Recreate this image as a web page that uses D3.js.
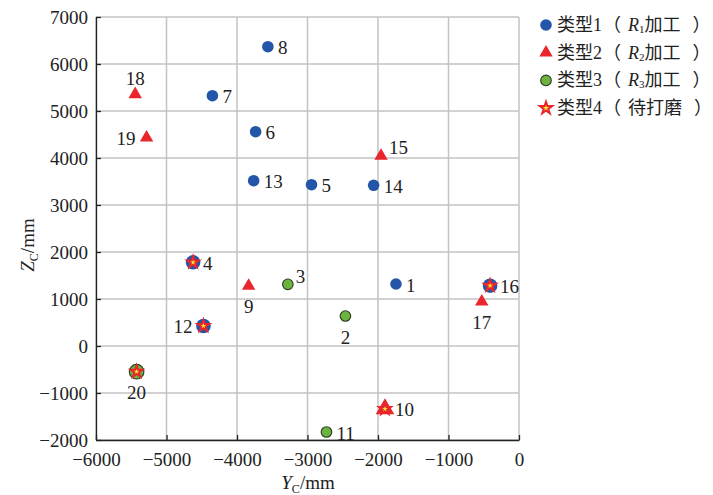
<!DOCTYPE html>
<html>
<head>
<meta charset="utf-8">
<script src="https://cdn.jsdelivr.net/npm/d3@7"></script>
<style>
  html, body { margin: 0; padding: 0; background: #fff; }
  svg { display: block; }
  text { font-family: "Liberation Serif", "Noto Sans CJK SC", serif; fill: #222; }
</style>
</head>
<body>
<svg id="chart" width="713" height="495"></svg>
<script>
// Workpiece positions in the camera frame (mm)
const pointIds = [1, 2, 3, 4, 5, 6, 7, 8, 9, 10, 11, 12, 13, 14, 15, 16, 17, 18, 19, 20];
const yC = [-1745, -2462, -3279, -4623, -2943, -3736, -4349, -3562, -3835, -1901,
            -2731, -4476, -3764, -2062, -1957, -410, -528, -5444, -5283, -5424];
const zC = [1319, 638, 1313, 1781, 3432, 4560, 5326, 6368, 1277, -1340,
            -1830, 426, 3517, 3419, 4043, 1283, 943, 5355, 4432, -547];
// machining type: 1 = R1, 2 = R2, 3 = R3
const machType = [1, 3, 3, 1, 1, 1, 1, 1, 2, 2, 3, 1, 1, 1, 2, 1, 2, 2, 2, 3];
// points that still need grinding (type 4)
const toGrind = [4, 10, 12, 16, 20];

const xTicks = [-6000, -5000, -4000, -3000, -2000, -1000, 0];
const yTicks = [-2000, -1000, 0, 1000, 2000, 3000, 4000, 5000, 6000, 7000];
const legendHeads = ["类型1", "类型2", "类型3", "类型4"];
const legendRobots = ["1", "2", "3", null];

// label placement around each marker
const labelSide = {
  1: "r", 2: "b", 3: "ur", 4: "r", 5: "r", 6: "r", 7: "r", 8: "r", 9: "b", 10: "r",
  11: "r", 12: "l", 13: "r", 14: "r", 15: "ur", 16: "r", 17: "b", 18: "t", 19: "l", 20: "b"
};

const BLUE = "#2356a8", RED = "#e8262b", GREEN = "#6cb33f", YELLOW = "#f7e43a";

const svg = d3.select("#chart");
const x = d3.scaleLinear().domain([-6000, 0]).range([96, 519]);
const y = d3.scaleLinear().domain([-2000, 7000]).range([440, 17]);

// grid
const grid = svg.append("g").attr("stroke", "#c3c3c3").attr("stroke-width", 1.5);
xTicks.forEach(t => grid.append("line")
  .attr("x1", x(t)).attr("x2", x(t)).attr("y1", y(-2000)).attr("y2", y(7000)));
yTicks.forEach(t => grid.append("line")
  .attr("x1", x(-6000)).attr("x2", x(0)).attr("y1", y(t)).attr("y2", y(t)));

// axes
const fmt = d => d < 0 ? "\u2212" + Math.abs(d) : d;
const xAxis = svg.append("g").attr("transform", `translate(0,${y(-2000)})`)
  .call(d3.axisBottom(x).tickValues(xTicks).tickSize(-5).tickSizeOuter(0).tickFormat(fmt));
const yAxis = svg.append("g").attr("transform", `translate(${x(-6000)},0)`)
  .call(d3.axisLeft(y).tickValues(yTicks).tickSize(-5).tickSizeOuter(0).tickFormat(fmt));
[xAxis, yAxis].forEach(a => {
  a.select(".domain").attr("stroke", "#222").attr("stroke-width", 1.3);
  a.selectAll(".tick line").attr("stroke", "#222").attr("stroke-width", 1.3);
  a.selectAll(".tick text").attr("font-size", 19)
    .attr("font-family", "Liberation Serif, serif").attr("fill", "#222");
});
xAxis.selectAll(".tick text").attr("dy", "1.2em");
yAxis.selectAll(".tick text").attr("x", -8);

// axis titles
const xt = svg.append("text").attr("x", 308).attr("y", 489).attr("text-anchor", "middle")
  .attr("font-size", 19);
xt.append("tspan").attr("font-style", "italic").text("Y");
xt.append("tspan").attr("font-size", 12).attr("dy", 4).text("C");
xt.append("tspan").attr("dy", -4).text("/mm");

const yt = svg.append("text").attr("transform", "translate(34,245) rotate(-90)")
  .attr("text-anchor", "middle").attr("font-size", 19);
yt.append("tspan").attr("font-style", "italic").text("Z");
yt.append("tspan").attr("font-size", 12).attr("dy", 4).text("C");
yt.append("tspan").attr("dy", -4).text("/mm");

// marker drawing helpers
function drawMarker(g, type, cx, cy) {
  if (type === 1) {
    g.append("circle").attr("cx", cx).attr("cy", cy).attr("r", 5.8).attr("fill", BLUE);
  } else if (type === 2) {
    g.append("path").attr("d", d3.symbol(d3.symbolTriangle, 78)())
      .attr("transform", `translate(${cx},${cy})`).attr("fill", RED);
  } else {
    g.append("circle").attr("cx", cx).attr("cy", cy).attr("r", 5.3)
      .attr("fill", GREEN).attr("stroke", "#2b3a22").attr("stroke-width", 1.1);
  }
}
function drawStar(g, cx, cy, outer) {
  g.append("path").attr("d", d3.symbol(d3.symbolStar, outer)())
    .attr("transform", `translate(${cx},${cy})`).attr("fill", YELLOW)
    .attr("stroke", RED).attr("stroke-width", 2).attr("stroke-linejoin", "miter");
}

const pts = pointIds.map((id, i) => ({ id, y: yC[i], z: zC[i], t: machType[i], star: toGrind.includes(id) }));
const markG = svg.append("g");
pts.forEach(p => {
  const cx = x(p.y), cy = y(p.z);
  if (p.star && p.t === 1) {
    markG.append("circle").attr("cx", cx).attr("cy", cy).attr("r", 7.3).attr("fill", BLUE);
  } else if (p.star && p.t === 3) {
    markG.append("circle").attr("cx", cx).attr("cy", cy).attr("r", 7.3)
      .attr("fill", GREEN).attr("stroke", "#2b3a22").attr("stroke-width", 1.1);
  } else if (p.star && p.t === 2) {
    markG.append("path").attr("d", d3.symbol(d3.symbolTriangle, 150)())
      .attr("transform", `translate(${cx},${cy})`).attr("fill", RED);
  } else {
    drawMarker(markG, p.t, cx, cy);
  }
  if (p.star) drawStar(markG, cx, cy, 42);
});

// point labels
const labelG = svg.append("g").attr("font-size", 19);
pts.forEach(p => {
  const cx = x(p.y), cy = y(p.z), side = labelSide[p.id];
  const t = labelG.append("text").text(p.id).attr("dominant-baseline", "central");
  if (side === "r") t.attr("x", cx + 10).attr("y", cy + 1);
  else if (side === "l") t.attr("x", cx - 11).attr("y", cy + 1).attr("text-anchor", "end");
  else if (side === "b") t.attr("x", cx).attr("y", cy + 21).attr("text-anchor", "middle");
  else if (side === "t") t.attr("x", cx).attr("y", cy - 16).attr("text-anchor", "middle");
  else if (side === "ur") t.attr("x", cx + 8).attr("y", cy - 8);
});

// legend
const leg = svg.append("g").attr("font-size", 18);
legendHeads.forEach((head, i) => {
  const ly = 25 + i * 27.7, lx = 546;
  const g = leg.append("g");
  if (i < 3) drawMarker(g, i + 1, lx, ly);
  else drawStar(g, lx, ly, 46);
  const t = g.append("text").attr("x", 557).attr("y", ly).attr("dominant-baseline", "central");
  t.append("tspan").text(head);
  t.append("tspan").attr("dx", 1).text("（");
  const r = legendRobots[i];
  if (r) {
    t.append("tspan").attr("dx", 7).attr("font-style", "italic").text("R");
    t.append("tspan").attr("font-size", 11).attr("dy", 4).text(r);
    t.append("tspan").attr("dy", -4).text("加工");
  } else {
    t.append("tspan").attr("dx", 7).text("待打磨");
  }
  t.append("tspan").attr("dx", 12).text("）");
});
</script>
</body>
</html>
